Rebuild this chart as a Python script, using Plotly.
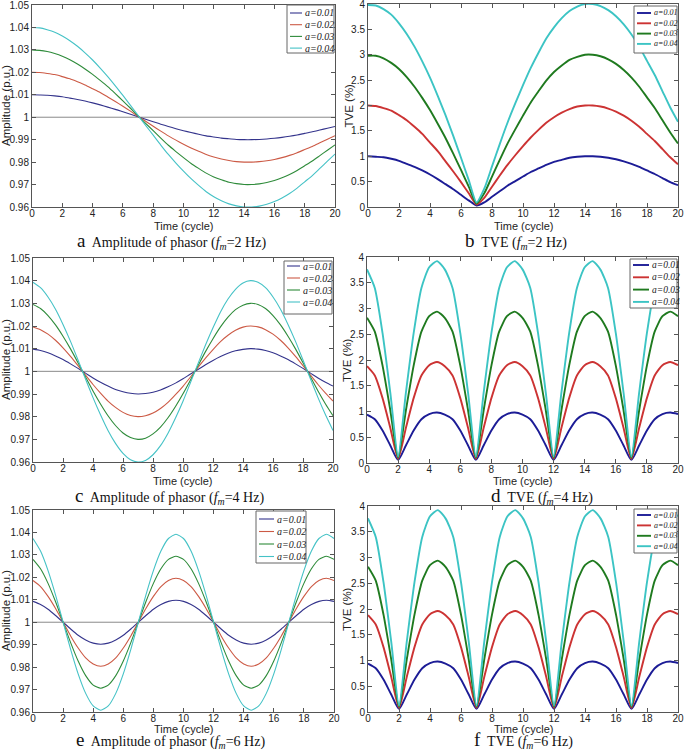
import plotly.graph_objects as go

# ---------------- data ----------------
time_cycle = [0, 0.5, 1, 1.5, 2, 2.5, 3, 3.5, 4, 4.5, 5, 5.5, 6, 6.5, 7, 7.5, 8, 8.5, 9, 9.5,
              10, 10.5, 11, 11.5, 12, 12.5, 13, 13.5, 14, 14.5, 15, 15.5, 16, 16.5, 17, 17.5,
              18, 18.5, 19, 19.5, 20]

series_labels = ["a=0.01", "a=0.02", "a=0.03", "a=0.04"]

# (a) amplitude, fm = 2 Hz
amp_2hz_a001 = [1.0100, 1.0099, 1.0098, 1.0095, 1.0091, 1.0085, 1.0079, 1.0072, 1.0064, 1.0055, 1.0045, 1.0035, 1.0024, 1.0013, 1.0002, 0.9991, 0.9980, 0.9969, 0.9959, 0.9949, 0.9940, 0.9932, 0.9924, 0.9917, 0.9912, 0.9907, 0.9904, 0.9901, 0.9900, 0.9900, 0.9901, 0.9903, 0.9906, 0.9910, 0.9915, 0.9921, 0.9928, 0.9935, 0.9943, 0.9951, 0.9959]
amp_2hz_a002 = [1.0200, 1.0199, 1.0195, 1.0190, 1.0181, 1.0171, 1.0158, 1.0144, 1.0127, 1.0110, 1.0090, 1.0070, 1.0049, 1.0027, 1.0004, 0.9982, 0.9960, 0.9938, 0.9917, 0.9898, 0.9880, 0.9863, 0.9848, 0.9834, 0.9823, 0.9814, 0.9807, 0.9802, 0.9800, 0.9800, 0.9802, 0.9806, 0.9812, 0.9820, 0.9830, 0.9842, 0.9856, 0.9870, 0.9886, 0.9902, 0.9918]
amp_2hz_a003 = [1.0300, 1.0298, 1.0293, 1.0284, 1.0272, 1.0256, 1.0237, 1.0215, 1.0191, 1.0164, 1.0136, 1.0105, 1.0073, 1.0040, 1.0006, 0.9973, 0.9940, 0.9907, 0.9875, 0.9847, 0.9820, 0.9794, 0.9772, 0.9751, 0.9734, 0.9721, 0.9710, 0.9704, 0.9700, 0.9700, 0.9703, 0.9709, 0.9718, 0.9730, 0.9745, 0.9763, 0.9784, 0.9805, 0.9829, 0.9853, 0.9877]
amp_2hz_a004 = [1.0400, 1.0398, 1.0390, 1.0379, 1.0362, 1.0341, 1.0316, 1.0287, 1.0255, 1.0219, 1.0181, 1.0140, 1.0097, 1.0053, 1.0008, 0.9964, 0.9920, 0.9876, 0.9834, 0.9796, 0.9760, 0.9726, 0.9696, 0.9668, 0.9646, 0.9628, 0.9614, 0.9605, 0.9600, 0.9600, 0.9604, 0.9612, 0.9624, 0.9640, 0.9660, 0.9684, 0.9712, 0.9740, 0.9772, 0.9804, 0.9836]

# (b) TVE %, fm = 2 Hz
tve_2hz_a001 = [1.00, 0.99, 0.98, 0.95, 0.91, 0.85, 0.79, 0.72, 0.64, 0.55, 0.45, 0.35, 0.24, 0.13, 0.03, 0.09, 0.20, 0.31, 0.42, 0.51, 0.60, 0.69, 0.76, 0.83, 0.89, 0.93, 0.97, 0.99, 1.00, 1.00, 0.99, 0.97, 0.94, 0.90, 0.85, 0.79, 0.72, 0.65, 0.57, 0.49, 0.43]
tve_2hz_a002 = [2.00, 1.99, 1.95, 1.90, 1.81, 1.71, 1.58, 1.44, 1.27, 1.10, 0.90, 0.70, 0.49, 0.27, 0.05, 0.18, 0.40, 0.62, 0.83, 1.02, 1.20, 1.37, 1.52, 1.66, 1.77, 1.86, 1.93, 1.98, 2.00, 2.00, 1.98, 1.94, 1.88, 1.80, 1.70, 1.58, 1.44, 1.30, 1.14, 0.98, 0.84]
tve_2hz_a003 = [2.98, 2.98, 2.93, 2.84, 2.72, 2.56, 2.37, 2.15, 1.91, 1.64, 1.36, 1.05, 0.73, 0.40, 0.07, 0.27, 0.60, 0.93, 1.25, 1.53, 1.80, 2.06, 2.28, 2.49, 2.66, 2.79, 2.90, 2.96, 3.00, 3.00, 2.97, 2.91, 2.82, 2.70, 2.55, 2.37, 2.16, 1.95, 1.71, 1.47, 1.25]
tve_2hz_a004 = [3.98, 3.97, 3.90, 3.79, 3.62, 3.41, 3.16, 2.87, 2.55, 2.19, 1.81, 1.40, 0.97, 0.53, 0.09, 0.36, 0.80, 1.24, 1.66, 2.04, 2.40, 2.74, 3.04, 3.32, 3.54, 3.72, 3.86, 3.95, 4.00, 4.00, 3.96, 3.88, 3.76, 3.60, 3.40, 3.16, 2.88, 2.60, 2.28, 1.96, 1.68]

# (c) amplitude, fm = 4 Hz
amp_4hz_a001 = [1.0098, 1.0092, 1.0082, 1.0068, 1.0052, 1.0033, 1.0013, 0.9992, 0.9971, 0.9952, 0.9935, 0.9920, 0.9910, 0.9903, 0.9900, 0.9902, 0.9908, 0.9918, 0.9932, 0.9948, 0.9967, 0.9988, 1.0008, 1.0029, 1.0048, 1.0065, 1.0080, 1.0091, 1.0097, 1.0100, 1.0098, 1.0092, 1.0082, 1.0068, 1.0052, 1.0033, 1.0013, 0.9992, 0.9971, 0.9952, 0.9935]
amp_4hz_a002 = [1.0196, 1.0184, 1.0164, 1.0137, 1.0104, 1.0066, 1.0025, 0.9983, 0.9942, 0.9904, 0.9869, 0.9841, 0.9819, 0.9805, 0.9800, 0.9804, 0.9816, 0.9836, 0.9863, 0.9897, 0.9934, 0.9975, 1.0017, 1.0058, 1.0096, 1.0131, 1.0159, 1.0181, 1.0195, 1.0200, 1.0196, 1.0184, 1.0164, 1.0137, 1.0104, 1.0066, 1.0025, 0.9983, 0.9942, 0.9904, 0.9869]
amp_4hz_a003 = [1.0295, 1.0277, 1.0246, 1.0205, 1.0155, 1.0099, 1.0038, 0.9975, 0.9913, 0.9856, 0.9804, 0.9761, 0.9728, 0.9708, 0.9700, 0.9705, 0.9724, 0.9754, 0.9795, 0.9845, 0.9901, 0.9962, 1.0025, 1.0087, 1.0144, 1.0196, 1.0239, 1.0272, 1.0292, 1.0300, 1.0295, 1.0277, 1.0246, 1.0205, 1.0155, 1.0099, 1.0038, 0.9975, 0.9913, 0.9856, 0.9804]
amp_4hz_a004 = [1.0393, 1.0369, 1.0328, 1.0274, 1.0207, 1.0132, 1.0050, 0.9966, 0.9884, 0.9808, 0.9739, 0.9682, 0.9638, 0.9610, 0.9600, 0.9607, 0.9632, 0.9672, 0.9727, 0.9794, 0.9868, 0.9950, 1.0034, 1.0116, 1.0192, 1.0262, 1.0319, 1.0362, 1.0390, 1.0400, 1.0393, 1.0369, 1.0328, 1.0274, 1.0207, 1.0132, 1.0050, 0.9966, 0.9884, 0.9808, 0.9739]

# (d) TVE %, fm = 4 Hz
tve_4hz_a001 = [0.94, 0.85, 0.63, 0.34, 0.06, 0.34, 0.63, 0.85, 0.95, 0.98, 0.94, 0.85, 0.63, 0.34, 0.06, 0.34, 0.63, 0.85, 0.95, 0.98, 0.94, 0.85, 0.63, 0.34, 0.06, 0.34, 0.63, 0.85, 0.95, 0.98, 0.94, 0.85, 0.63, 0.34, 0.06, 0.34, 0.63, 0.85, 0.95, 0.98, 0.95]
tve_4hz_a002 = [1.88, 1.70, 1.26, 0.68, 0.08, 0.68, 1.26, 1.70, 1.90, 1.96, 1.88, 1.70, 1.26, 0.68, 0.08, 0.68, 1.26, 1.70, 1.90, 1.96, 1.88, 1.70, 1.26, 0.68, 0.08, 0.68, 1.26, 1.70, 1.90, 1.96, 1.88, 1.70, 1.26, 0.68, 0.08, 0.68, 1.26, 1.70, 1.90, 1.96, 1.90]
tve_4hz_a003 = [2.82, 2.55, 1.89, 1.02, 0.10, 1.02, 1.89, 2.55, 2.85, 2.94, 2.82, 2.55, 1.89, 1.02, 0.10, 1.02, 1.89, 2.55, 2.85, 2.94, 2.82, 2.55, 1.89, 1.02, 0.10, 1.02, 1.89, 2.55, 2.85, 2.94, 2.82, 2.55, 1.89, 1.02, 0.10, 1.02, 1.89, 2.55, 2.85, 2.94, 2.85]
tve_4hz_a004 = [3.76, 3.40, 2.52, 1.36, 0.12, 1.36, 2.52, 3.40, 3.80, 3.92, 3.76, 3.40, 2.52, 1.36, 0.12, 1.36, 2.52, 3.40, 3.80, 3.92, 3.76, 3.40, 2.52, 1.36, 0.12, 1.36, 2.52, 3.40, 3.80, 3.92, 3.76, 3.40, 2.52, 1.36, 0.12, 1.36, 2.52, 3.40, 3.80, 3.92, 3.80]

# (e) amplitude, fm = 6 Hz
amp_6hz_a001 = [1.0093, 1.0079, 1.0058, 1.0030, 1.0000, 0.9970, 0.9942, 0.9921, 0.9907, 0.9902, 0.9907, 0.9921, 0.9942, 0.9970, 1.0000, 1.0030, 1.0058, 1.0079, 1.0093, 1.0098, 1.0093, 1.0079, 1.0058, 1.0030, 1.0000, 0.9970, 0.9942, 0.9921, 0.9907, 0.9902, 0.9907, 0.9921, 0.9942, 0.9970, 1.0000, 1.0030, 1.0058, 1.0079, 1.0093, 1.0098, 1.0093]
amp_6hz_a002 = [1.0186, 1.0159, 1.0115, 1.0061, 1.0000, 0.9939, 0.9885, 0.9841, 0.9814, 0.9804, 0.9814, 0.9841, 0.9885, 0.9939, 1.0000, 1.0061, 1.0115, 1.0159, 1.0186, 1.0196, 1.0186, 1.0159, 1.0115, 1.0061, 1.0000, 0.9939, 0.9885, 0.9841, 0.9814, 0.9804, 0.9814, 0.9841, 0.9885, 0.9939, 1.0000, 1.0061, 1.0115, 1.0159, 1.0186, 1.0196, 1.0186]
amp_6hz_a003 = [1.0280, 1.0238, 1.0173, 1.0091, 1.0000, 0.9909, 0.9827, 0.9762, 0.9720, 0.9706, 0.9720, 0.9762, 0.9827, 0.9909, 1.0000, 1.0091, 1.0173, 1.0238, 1.0280, 1.0294, 1.0280, 1.0238, 1.0173, 1.0091, 1.0000, 0.9909, 0.9827, 0.9762, 0.9720, 0.9706, 0.9720, 0.9762, 0.9827, 0.9909, 1.0000, 1.0091, 1.0173, 1.0238, 1.0280, 1.0294, 1.0280]
amp_6hz_a004 = [1.0373, 1.0317, 1.0230, 1.0121, 1.0000, 0.9879, 0.9770, 0.9683, 0.9627, 0.9608, 0.9627, 0.9683, 0.9770, 0.9879, 1.0000, 1.0121, 1.0230, 1.0317, 1.0373, 1.0392, 1.0373, 1.0317, 1.0230, 1.0121, 1.0000, 0.9879, 0.9770, 0.9683, 0.9627, 0.9608, 0.9627, 0.9683, 0.9770, 0.9879, 1.0000, 1.0121, 1.0230, 1.0317, 1.0373, 1.0392, 1.0373]

# (f) TVE %, fm = 6 Hz
tve_6hz_a001 = [0.94, 0.85, 0.63, 0.34, 0.06, 0.34, 0.63, 0.85, 0.95, 0.98, 0.94, 0.85, 0.63, 0.34, 0.06, 0.34, 0.63, 0.85, 0.95, 0.98, 0.94, 0.85, 0.63, 0.34, 0.06, 0.34, 0.63, 0.85, 0.95, 0.98, 0.94, 0.85, 0.63, 0.34, 0.06, 0.34, 0.63, 0.85, 0.95, 0.98, 0.95]
tve_6hz_a002 = [1.88, 1.70, 1.26, 0.68, 0.08, 0.68, 1.26, 1.70, 1.90, 1.96, 1.88, 1.70, 1.26, 0.68, 0.08, 0.68, 1.26, 1.70, 1.90, 1.96, 1.88, 1.70, 1.26, 0.68, 0.08, 0.68, 1.26, 1.70, 1.90, 1.96, 1.88, 1.70, 1.26, 0.68, 0.08, 0.68, 1.26, 1.70, 1.90, 1.96, 1.90]
tve_6hz_a003 = [2.82, 2.55, 1.89, 1.02, 0.10, 1.02, 1.89, 2.55, 2.85, 2.94, 2.82, 2.55, 1.89, 1.02, 0.10, 1.02, 1.89, 2.55, 2.85, 2.94, 2.82, 2.55, 1.89, 1.02, 0.10, 1.02, 1.89, 2.55, 2.85, 2.94, 2.82, 2.55, 1.89, 1.02, 0.10, 1.02, 1.89, 2.55, 2.85, 2.94, 2.85]
tve_6hz_a004 = [3.76, 3.40, 2.52, 1.36, 0.12, 1.36, 2.52, 3.40, 3.80, 3.92, 3.76, 3.40, 2.52, 1.36, 0.12, 1.36, 2.52, 3.40, 3.80, 3.92, 3.76, 3.40, 2.52, 1.36, 0.12, 1.36, 2.52, 3.40, 3.80, 3.92, 3.76, 3.40, 2.52, 1.36, 0.12, 1.36, 2.52, 3.40, 3.80, 3.92, 3.80]

x_ticks = [0, 2, 4, 6, 8, 10, 12, 14, 16, 18, 20]
amp_ticks = [0.96, 0.97, 0.98, 0.99, 1.0, 1.01, 1.02, 1.03, 1.04, 1.05]
amp_tick_text = ["0.96", "0.97", "0.98", "0.99", "1", "1.01", "1.02", "1.03", "1.04", "1.05"]
tve_ticks = [0, 0.5, 1, 1.5, 2, 2.5, 3, 3.5, 4]
tve_tick_text = ["0", "0.5", "1", "1.5", "2", "2.5", "3", "3.5", "4"]

# ---------------- styling / layout ----------------
W, H = 685, 752
amp_colors = ["#34348c", "#cc5a45", "#2e8b3a", "#45c2c6"]
tve_colors = ["#1c1c96", "#cc3333", "#1f7a1f", "#3cc4c4"]

def px_x(p):
    return p / W

def px_y(p):
    return 1 - p / H

# box = (left, right, top, bottom) of the plot area in pixels
# leg = (left, right, top, bottom, row1_y, row_step, line_len, font_size)
panels = [
    dict(kind="amp", box=(32, 335, 5, 207), series=[amp_2hz_a001, amp_2hz_a002, amp_2hz_a003, amp_2hz_a004],
         cap="a", cap_text="Amplitude of phasor (", fm="2", cap_x=171, cap_y=241, ytitle_x=6, xtitle_y=226,
         leg=(287, 334, 5, 53, 13, 11.7, 12, 10)),
    dict(kind="tve", box=(368, 678, 4, 207), series=[tve_2hz_a001, tve_2hz_a002, tve_2hz_a003, tve_2hz_a004],
         cap="b", cap_text="TVE (", fm="2", cap_x=516, cap_y=241, ytitle_x=348, xtitle_y=226,
         leg=(634, 677, 6, 53, 13, 10.3, 14, 8)),
    dict(kind="amp", box=(33, 333, 258, 462), series=[amp_4hz_a001, amp_4hz_a002, amp_4hz_a003, amp_4hz_a004],
         cap="c", cap_text="Amplitude of phasor (", fm="4", cap_x=169, cap_y=496, ytitle_x=6, xtitle_y=481,
         leg=(284, 332, 261, 314, 266, 12, 13, 10)),
    dict(kind="tve", box=(367, 678, 257, 463), series=[tve_4hz_a001, tve_4hz_a002, tve_4hz_a003, tve_4hz_a004],
         cap="d", cap_text="TVE (", fm="4", cap_x=542, cap_y=496, ytitle_x=347, xtitle_y=481,
         leg=(630, 677, 259, 308, 265, 12.3, 16, 9.5)),
    dict(kind="amp", box=(33, 334, 510, 712), series=[amp_6hz_a001, amp_6hz_a002, amp_6hz_a003, amp_6hz_a004],
         cap="e", cap_text="Amplitude of phasor (", fm="6", cap_x=170, cap_y=740, ytitle_x=6, xtitle_y=729,
         leg=(256, 306, 511, 563, 519, 12.5, 15, 10)),
    dict(kind="tve", box=(368, 678, 506, 712), series=[tve_6hz_a001, tve_6hz_a002, tve_6hz_a003, tve_6hz_a004],
         cap="f", cap_text="TVE (", fm="6", cap_x=523, cap_y=740, ytitle_x=347, xtitle_y=729,
         leg=(634, 677, 509, 553, 515, 10.4, 14, 8)),
]

fig = go.Figure()
layout = dict(
    width=W, height=H, margin=dict(l=0, r=0, t=0, b=0, autoexpand=False),
    paper_bgcolor="white", plot_bgcolor="white", showlegend=False,
    font=dict(family="Liberation Sans, Arial, sans-serif", size=11, color="#222"),
    annotations=[], shapes=[],
)

tick_font = dict(family="Liberation Sans, Arial, sans-serif", size=10, color="#222")
serif = "Liberation Serif, Times New Roman, serif"

for i, p in enumerate(panels):
    n = i + 1
    xa = "x" if n == 1 else f"x{n}"
    ya = "y" if n == 1 else f"y{n}"
    xkey = "xaxis" if n == 1 else f"xaxis{n}"
    ykey = "yaxis" if n == 1 else f"yaxis{n}"
    x0, x1, y0, y1 = p["box"]
    is_amp = p["kind"] == "amp"
    colors = amp_colors if is_amp else tve_colors
    lw = 1.1 if is_amp else 1.9

    for j, ys in enumerate(p["series"]):
        fig.add_trace(go.Scatter(
            x=time_cycle, y=ys, xaxis=xa, yaxis=ya, mode="lines",
            name=series_labels[j],
            line=dict(color=colors[j], width=lw, shape="spline", smoothing=0.6),
            hoverinfo="skip",
        ))

    common = dict(showline=True, linecolor="#555", linewidth=1, mirror="ticks",
                  ticks="inside", ticklen=4, tickcolor="#555", showgrid=False,
                  zeroline=False, tickfont=tick_font, automargin=False,
                  ticklabeloverflow="allow")
    layout[xkey] = dict(domain=[px_x(x0), px_x(x1)], anchor=ya, range=[0, 20],
                        tickvals=x_ticks, ticktext=[str(v) for v in x_ticks],
                        ticklabelstandoff=-3, **common)
    if is_amp:
        layout[ykey] = dict(domain=[px_y(y1), px_y(y0)], anchor=xa, range=[0.96, 1.05],
                            tickvals=amp_ticks, ticktext=amp_tick_text, **common)
        layout["shapes"].append(dict(type="line", xref=f"{xa} domain", yref=ya,
                                     x0=0, x1=1, y0=1, y1=1,
                                     line=dict(color="#8a8a8a", width=1), layer="below"))
        ytitle = "Amplitude (p.u.)"
    else:
        layout[ykey] = dict(domain=[px_y(y1), px_y(y0)], anchor=xa, range=[0, 4],
                            tickvals=tve_ticks, ticktext=tve_tick_text, **common)
        ytitle = "TVE (%)"

    # axis titles
    layout["annotations"].append(dict(
        x=px_x((x0 + x1) / 2), y=px_y(p["xtitle_y"]), xref="paper", yref="paper",
        xanchor="center", yanchor="middle", showarrow=False, text="Time (cycle)",
        font=dict(size=11, color="#222")))
    layout["annotations"].append(dict(
        x=px_x(p["ytitle_x"]), y=px_y((y0 + y1) / 2), xref="paper", yref="paper",
        xanchor="center", yanchor="middle", showarrow=False, text=ytitle, textangle=-90,
        font=dict(size=11.5, color="#222")))

    # legend box (drawn inside the plot, MATLAB style)
    lx0, lx1, ly0, ly1, r1, step, llen, fsz = p["leg"]
    layout["shapes"].append(dict(type="rect", xref="paper", yref="paper",
                                 x0=px_x(lx0), x1=px_x(lx1), y0=px_y(ly1), y1=px_y(ly0),
                                 line=dict(color="#666", width=1), fillcolor="white", layer="above"))
    for j, lab in enumerate(series_labels):
        ry = r1 + j * step
        layout["shapes"].append(dict(type="line", xref="paper", yref="paper",
                                     x0=px_x(lx0 + 3), x1=px_x(lx0 + 3 + llen), y0=px_y(ry), y1=px_y(ry),
                                     line=dict(color=colors[j], width=lw), layer="above"))
        layout["annotations"].append(dict(
            x=px_x(lx0 + 4 + llen), y=px_y(ry), xref="paper", yref="paper",
            xanchor="left", yanchor="middle", showarrow=False, text="<i>" + lab + "</i>",
            font=dict(family=serif, size=fsz, color="#222")))

    # caption
    layout["annotations"].append(dict(
        x=px_x(p["cap_x"]), y=px_y(p["cap_y"]), xref="paper", yref="paper",
        xanchor="center", yanchor="middle", showarrow=False,
        text=("<span style='font-size:19px'>" + p["cap"] + "</span>  " + p["cap_text"]
              + "<i>f<sub>m</sub></i>=" + p["fm"] + " Hz)"),
        font=dict(family=serif, size=14, color="#111"),
    ))

fig.update_layout(**layout)
fig.write_html("out.html", config={"displayModeBar": False},
               post_script="document.body.style.margin='0px';document.body.style.overflow='hidden';")
